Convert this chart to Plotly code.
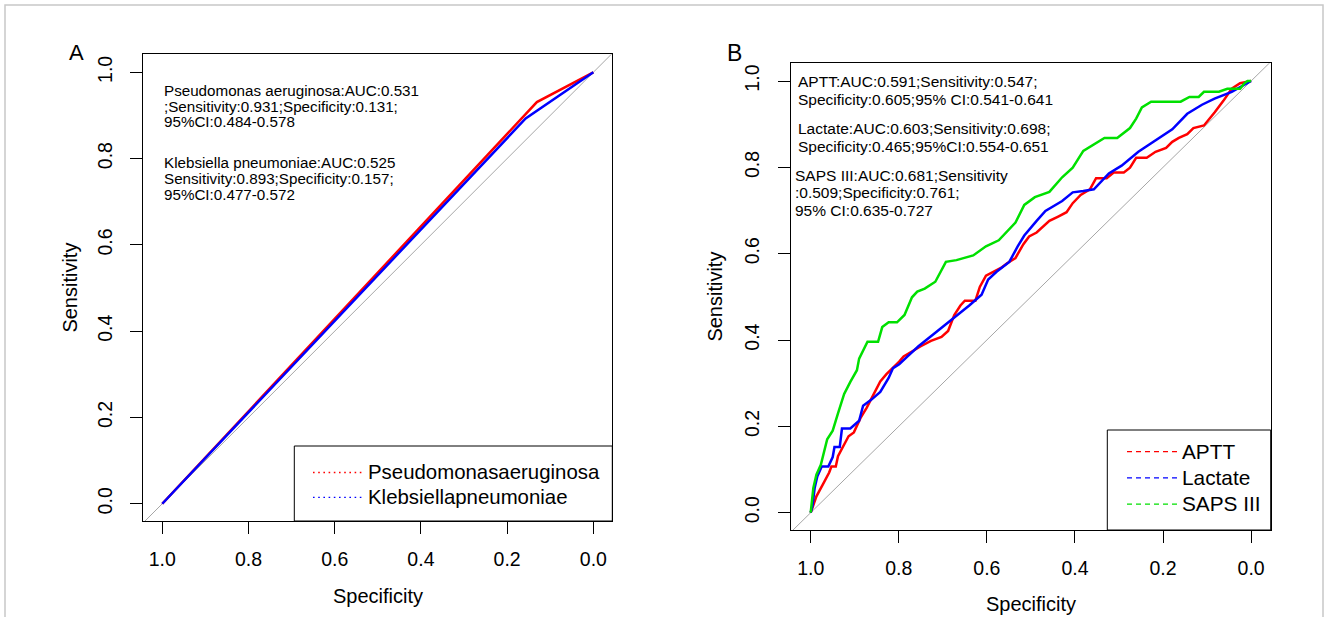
import plotly.graph_objects as go

W, H = 1328, 617

# ---------------- Panel A data ----------------
pa_spec = [1.0, 0.131, 0.0]
pa_sens = [0.0, 0.931, 1.0]
kp_spec = [1.0, 0.157, 0.0]
kp_sens = [0.0, 0.893, 1.0]

# ---------------- Panel B data ----------------
aptt_spec = [1.0, 0.987, 0.972, 0.958, 0.953, 0.943, 0.938, 0.929, 0.924, 0.914, 0.902, 0.895,
             0.886, 0.873, 0.862, 0.852, 0.842, 0.828, 0.813, 0.799, 0.789, 0.775, 0.751, 0.727,
             0.703, 0.688, 0.674, 0.660, 0.650, 0.626, 0.616, 0.602, 0.583, 0.568, 0.554, 0.535,
             0.517, 0.504, 0.487, 0.472, 0.458, 0.438, 0.419, 0.405, 0.387, 0.366, 0.352, 0.328,
             0.312, 0.289, 0.275, 0.261, 0.237, 0.217, 0.193, 0.179, 0.164, 0.145, 0.131, 0.107,
             0.097, 0.083, 0.063, 0.044, 0.025, 0.0]
aptt_sens = [0.0, 0.038, 0.066, 0.093, 0.107, 0.107, 0.131, 0.148, 0.161, 0.177, 0.186, 0.202,
             0.221, 0.243, 0.266, 0.284, 0.304, 0.321, 0.335, 0.350, 0.362, 0.371, 0.385, 0.398,
             0.407, 0.421, 0.458, 0.480, 0.491, 0.491, 0.523, 0.549, 0.558, 0.567, 0.578, 0.590,
             0.622, 0.640, 0.649, 0.663, 0.676, 0.686, 0.696, 0.717, 0.736, 0.749, 0.775, 0.775,
             0.788, 0.788, 0.799, 0.822, 0.822, 0.836, 0.845, 0.859, 0.868, 0.877, 0.891, 0.897,
             0.909, 0.927, 0.954, 0.982, 0.995, 1.0]

lac_spec = [1.0, 0.996, 0.991, 0.985, 0.975, 0.960, 0.950, 0.946, 0.934, 0.929, 0.910, 0.890,
            0.881, 0.862, 0.842, 0.823, 0.813, 0.799, 0.780, 0.756, 0.717, 0.679, 0.640, 0.612,
            0.597, 0.578, 0.549, 0.530, 0.515, 0.487, 0.467, 0.429, 0.405, 0.381, 0.357, 0.323,
            0.294, 0.256, 0.217, 0.179, 0.145, 0.1115, 0.083, 0.044, 0.0]
lac_sens = [0.0, 0.0155, 0.057, 0.084, 0.107, 0.107, 0.129, 0.152, 0.152, 0.195, 0.195, 0.213,
            0.248, 0.262, 0.280, 0.312, 0.335, 0.344, 0.362, 0.385, 0.417, 0.448, 0.480, 0.505,
            0.540, 0.558, 0.581, 0.617, 0.642, 0.676, 0.699, 0.722, 0.742, 0.745, 0.749, 0.786,
            0.804, 0.836, 0.863, 0.888, 0.924, 0.945, 0.959, 0.975, 1.0]

saps_spec = [1.0, 0.994, 0.987, 0.977, 0.9625, 0.950, 0.938, 0.924, 0.910, 0.895, 0.890, 0.871,
             0.847, 0.8375, 0.823, 0.804, 0.787, 0.770, 0.758, 0.741, 0.717, 0.693, 0.669, 0.631,
             0.602, 0.573, 0.535, 0.515, 0.491, 0.458, 0.429, 0.405, 0.381, 0.333, 0.304, 0.275,
             0.261, 0.248, 0.227, 0.160, 0.140, 0.119, 0.107, 0.073, 0.054, 0.025, 0.015, 0.008, 0.0]
saps_sens = [0.0, 0.057, 0.088, 0.111, 0.170, 0.190, 0.230, 0.275, 0.303, 0.330, 0.357, 0.396,
             0.396, 0.430, 0.441, 0.441, 0.458, 0.499, 0.512, 0.519, 0.535, 0.581, 0.585, 0.596,
             0.617, 0.631, 0.672, 0.713, 0.731, 0.743, 0.777, 0.799, 0.838, 0.868, 0.868, 0.891,
             0.913, 0.939, 0.952, 0.952, 0.963, 0.963, 0.975, 0.975, 0.982, 0.982, 0.995, 1.0, 1.0]

tick_vals = [1.0, 0.8, 0.6, 0.4, 0.2, 0.0]
tick_text = ["1.0", "0.8", "0.6", "0.4", "0.2", "0.0"]

legend_a_names = ["Pseudomonasaeruginosa", "Klebsiellapneumoniae"]
legend_b_names = ["APTT", "Lactate", "SAPS III"]

text_a = [
    "Pseudomonas aeruginosa:AUC:0.531",
    ";Sensitivity:0.931;Specificity:0.131;",
    "95%CI:0.484-0.578",
    "Klebsiella pneumoniae:AUC:0.525",
    "Sensitivity:0.893;Specificity:0.157;",
    "95%CI:0.477-0.572",
]
text_a_y = [0.957, 0.920, 0.885, 0.791, 0.753, 0.717]

text_b = [
    "APTT:AUC:0.591;Sensitivity:0.547;",
    "Specificity:0.605;95% CI:0.541-0.641",
    "Lactate:AUC:0.603;Sensitivity:0.698;",
    "Specificity:0.465;95%CI:0.554-0.651",
    "SAPS III:AUC:0.681;Sensitivity",
    ":0.509;Specificity:0.761;",
    "95% CI:0.635-0.727",
]
text_b_y = [0.998, 0.956, 0.890, 0.848, 0.782, 0.741, 0.701]
text_b_x = [1.0334, 1.0334, 1.0334, 1.0334, 1.0409, 1.0409, 1.0409]

FONT = "Liberation Sans, Arial, sans-serif"
GRAY = "#a6a6a6"
RED, BLUE, GREEN = "#ff0000", "#0000ff", "#00e000"

fig = go.Figure()

# diagonal reference lines
for xa, ya in (("x", "y"), ("x2", "y2")):
    fig.add_trace(go.Scatter(x=[1.2, -0.2], y=[-0.2, 1.2], mode="lines",
                             line=dict(color=GRAY, width=1), xaxis=xa, yaxis=ya,
                             showlegend=False, hoverinfo="skip"))

# Panel A curves
fig.add_trace(go.Scatter(x=pa_spec, y=pa_sens, mode="lines", line=dict(color=RED, width=2.5),
                         xaxis="x", yaxis="y", showlegend=False))
fig.add_trace(go.Scatter(x=kp_spec, y=kp_sens, mode="lines", line=dict(color=BLUE, width=2.5),
                         xaxis="x", yaxis="y", showlegend=False))

# Panel B curves
fig.add_trace(go.Scatter(x=aptt_spec, y=aptt_sens, mode="lines", line=dict(color=RED, width=2.5),
                         xaxis="x2", yaxis="y2", showlegend=False))
fig.add_trace(go.Scatter(x=lac_spec, y=lac_sens, mode="lines", line=dict(color=BLUE, width=2.5),
                         xaxis="x2", yaxis="y2", showlegend=False))
fig.add_trace(go.Scatter(x=saps_spec, y=saps_sens, mode="lines", line=dict(color=GREEN, width=2.5),
                         xaxis="x2", yaxis="y2", showlegend=False))

# legend entries (legend-only traces, styled like R's lty samples)
for name, col in zip(legend_a_names, (RED, BLUE)):
    fig.add_trace(go.Scatter(x=[None], y=[None], mode="lines",
                             name='<span style="font-size:20.4px">%s</span>' % name,
                             line=dict(color=col, width=1.3, dash="1.6px,3.6px"),
                             xaxis="x", yaxis="y", legend="legend"))
for name, col in zip(legend_b_names, (RED, BLUE, GREEN)):
    fig.add_trace(go.Scatter(x=[None], y=[None], mode="lines",
                             name='<span style="font-size:20.8px">%s</span>' % name,
                             line=dict(color=col, width=1.3, dash="5px,4px"),
                             xaxis="x2", yaxis="y2", legend="legend2"))

annotations = []
for t, yv in zip(text_a, text_a_y):
    annotations.append(dict(x=1.0, y=yv, xref="x", yref="y", text=t, showarrow=False,
                            xanchor="left", yanchor="middle", font=dict(size=15.2, color="black")))
for t, xv, yv in zip(text_b, text_b_x, text_b_y):
    annotations.append(dict(x=xv, y=yv, xref="x2", yref="y2", text=t, showarrow=False,
                            xanchor="left", yanchor="middle", font=dict(size=15.5, color="black")))

def px(x):
    return x / W

def py(y):
    return 1 - y / H

# panel labels and axis titles
annotations += [
    dict(x=px(76), y=py(52.7), xref="paper", yref="paper", text="A", showarrow=False,
         xanchor="center", yanchor="middle", font=dict(size=22, color="black")),
    dict(x=px(734.3), y=py(52.7), xref="paper", yref="paper", text="B", showarrow=False,
         xanchor="center", yanchor="middle", font=dict(size=23, color="black")),
    dict(x=px(377.8), y=py(596), xref="paper", yref="paper", text="Specificity", showarrow=False,
         xanchor="center", yanchor="middle", font=dict(size=20, color="black")),
    dict(x=px(1031), y=py(604), xref="paper", yref="paper", text="Specificity", showarrow=False,
         xanchor="center", yanchor="middle", font=dict(size=20, color="black")),
    dict(x=px(70), y=py(287.6), xref="paper", yref="paper", text="Sensitivity", showarrow=False,
         textangle=-90, xanchor="center", yanchor="middle", font=dict(size=20, color="black")),
    dict(x=px(715), y=py(296.6), xref="paper", yref="paper", text="Sensitivity", showarrow=False,
         textangle=-90, xanchor="center", yanchor="middle", font=dict(size=20, color="black")),
]

shapes = [
    dict(type="rect", xref="paper", yref="paper", x0=px(5), x1=px(1323), y0=py(625), y1=py(5),
         line=dict(color="#c8c8c8", width=1.5), layer="below"),
    dict(type="rect", xref="paper", yref="paper", x0=px(294.3), x1=px(612.3), y0=py(521), y1=py(446),
         line=dict(color="black", width=1)),
    dict(type="rect", xref="paper", yref="paper", x0=px(1107.3), x1=px(1270.7), y0=py(530), y1=py(430),
         line=dict(color="black", width=1)),
]

axis_common = dict(showgrid=False, zeroline=False, showline=True, mirror=True, linecolor="black",
                   linewidth=1, ticks="outside", ticklen=12, tickwidth=1, tickcolor="black",
                   tickvals=tick_vals, ticktext=tick_text, tickfont=dict(size=19.5, color="black"),
                   autorange=False)

fig.update_layout(
    width=W, height=H, margin=dict(l=0, r=0, t=0, b=0),
    paper_bgcolor="white", plot_bgcolor="white", template="none",
    font=dict(family=FONT, color="black"),
    xaxis=dict(domain=[px(143.3), px(612.3)], range=[1.044, -0.044], anchor="y",
               ticklabelstandoff=9, **axis_common),
    yaxis=dict(domain=[py(521), py(54.3)], range=[-0.040, 1.0417], anchor="x",
               tickangle=-90, ticklabelstandoff=11, **axis_common),
    xaxis2=dict(domain=[px(791), px(1270.7)], range=[1.0447, -0.0445], anchor="y2",
                ticklabelstandoff=9, **axis_common),
    yaxis2=dict(domain=[py(530), py(63.3)], range=[-0.0401, 1.041], anchor="x2",
                tickangle=-90, ticklabelstandoff=11, **axis_common),
    legend=dict(x=px(308), y=py(455), xanchor="left", yanchor="top", bgcolor="rgba(0,0,0,0)",
                font=dict(size=16.9, color="black"), itemwidth=50, tracegroupgap=0),
    legend2=dict(x=px(1122), y=py(433.5), xanchor="left", yanchor="top", bgcolor="rgba(0,0,0,0)",
                 font=dict(size=17.9, color="black"), itemwidth=50, tracegroupgap=0),
    annotations=annotations,
    shapes=shapes,
    showlegend=True,
)

fig.write_html("out.html", config={"displayModeBar": False},
               post_script="document.body.style.margin='0';")
